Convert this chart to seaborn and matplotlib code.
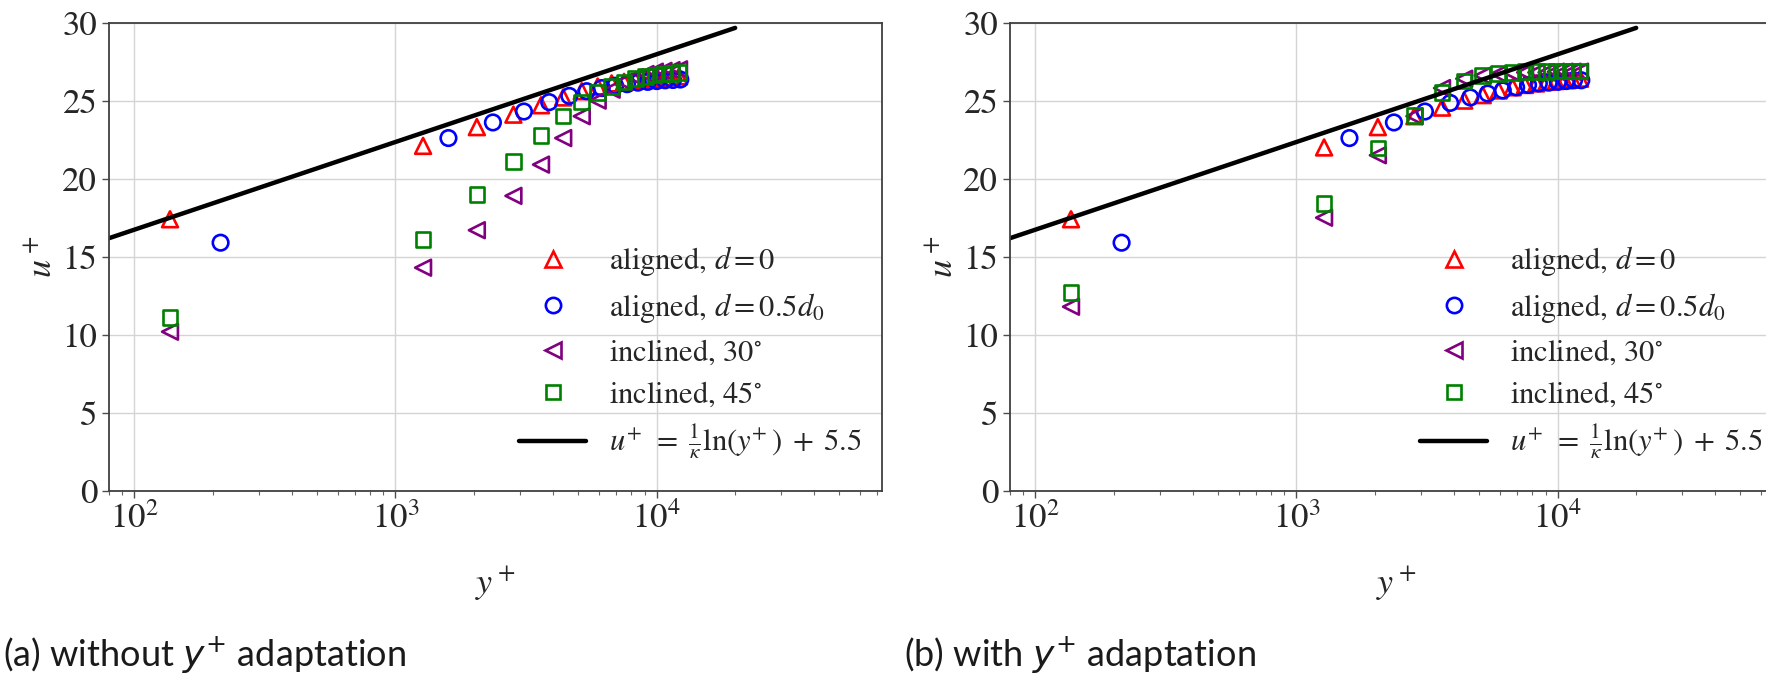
import numpy as np
import matplotlib
matplotlib.use("Agg")
from matplotlib import pyplot as plt
from matplotlib.lines import Line2D
import seaborn as sns

# values
# cell-centre y+ positions (shared by the d=0 and inclined cases)
yplus_main = [137, 1276, 2050, 2830, 3610, 4390, 5170, 5950, 6730, 7510, 8290, 9070, 9850, 10630, 11410, 12190]
# shifted positions of the d = 0.5 d0 case
yplus_shift = [214, 1596, 2362, 3105, 3880, 4634, 5400, 6170, 6940, 7710, 8480, 9250, 10020, 10790, 11560, 12330]

# (a) without y+ adaptation
u_aligned_a = [17.4, 22.1, 23.3, 24.1, 24.7, 25.2, 25.6, 25.9, 26.1, 26.2, 26.3, 26.35, 26.4, 26.45, 26.5, 26.55]
u_shift_a = [15.9, 22.6, 23.6, 24.3, 24.9, 25.3, 25.6, 25.8, 25.95, 26.05, 26.15, 26.2, 26.25, 26.3, 26.32, 26.35]
u_incl30_a = [10.2, 14.3, 16.7, 18.9, 20.9, 22.6, 24.0, 25.0, 25.7, 26.2, 26.5, 26.7, 26.85, 26.9, 26.95, 27.0]
u_incl45_a = [11.1, 16.1, 19.0, 21.1, 22.75, 24.0, 24.9, 25.5, 25.9, 26.2, 26.4, 26.55, 26.65, 26.7, 26.75, 26.8]

# (b) with y+ adaptation
u_aligned_b = [17.4, 22.0, 23.3, 24.0, 24.55, 25.0, 25.35, 25.65, 25.85, 26.0, 26.1, 26.2, 26.25, 26.3, 26.35, 26.4]
u_shift_b = [15.9, 22.6, 23.6, 24.3, 24.85, 25.2, 25.45, 25.65, 25.85, 26.0, 26.1, 26.15, 26.2, 26.25, 26.3, 26.3]
u_incl30_b = [11.8, 17.5, 21.5, 24.0, 25.8, 26.4, 26.6, 26.7, 26.75, 26.8, 26.8, 26.8, 26.85, 26.85, 26.85, 26.85]
u_incl45_b = [12.7, 18.4, 21.95, 24.05, 25.5, 26.25, 26.6, 26.75, 26.8, 26.85, 26.85, 26.85, 26.9, 26.9, 26.9, 26.9]

# log law of the wall
kappa = 0.41
B = 5.5
line_yplus = np.array([60.0, 2.0e4])

labels = ['aligned, $d=0$', 'aligned, $d=0.5d_0$', 'inclined, $30^{\\circ}$',
          'inclined, $45^{\\circ}$',
          '$u^{+}\\,\\;=\\;\\frac{1}{\\kappa}\\ln(y^{+}\\,)\\;+\\;5.5$']
captions = ['(a) without $y^{+}$ adaptation', '(b) with $y^{+}$ adaptation']

sns.set_style('whitegrid', {'axes.edgecolor': '0.25', 'grid.color': '0.83',
                            'xtick.bottom': True, 'ytick.left': True})
plt.rcParams['font.family'] = ['STIXGeneral', 'DejaVu Serif']
plt.rcParams['mathtext.fontset'] = 'stix'
plt.rcParams['axes.linewidth'] = 1.3
plt.rcParams['grid.linewidth'] = 1.0


def draw_panel(ax, u_red, u_blue, u_purple, u_green):
    sns.scatterplot(x=yplus_main, y=u_red, marker='^', s=130, facecolors='none',
                    edgecolor='red', linewidth=1.9, ax=ax)
    sns.scatterplot(x=yplus_shift, y=u_blue, marker='o', s=125, facecolors='none',
                    edgecolor='blue', linewidth=1.9, ax=ax)
    sns.scatterplot(x=yplus_main, y=u_purple, marker='<', s=130, facecolors='none',
                    edgecolor='purple', linewidth=1.9, ax=ax)
    sns.scatterplot(x=yplus_main, y=u_green, marker='s', s=110, facecolors='none',
                    edgecolor='green', linewidth=1.9, ax=ax)
    u_line = np.log(line_yplus) / kappa + B
    sns.lineplot(x=line_yplus, y=u_line, color='black', linewidth=3.2, ax=ax)

    ax.set_xscale('log')
    ax.set_xlim(80, 7.3e4)
    ax.set_ylim(0, 30)
    ax.set_yticks(range(0, 31, 5))
    ax.tick_params(axis='both', which='major', labelsize=25, direction='out',
                   length=5, width=1.0, color='0.3')
    ax.tick_params(axis='x', which='minor', direction='out', length=3, width=0.8,
                   color='0.4', bottom=True)
    ax.grid(True, which='major')
    ax.grid(False, which='minor')
    ax.set_xlabel('$y^+$', fontsize=26, labelpad=20)
    ax.set_ylabel('$u^+$', fontsize=26, labelpad=2)

    handles = [
        Line2D([], [], ls='none', marker='^', ms=11.5, mfc='none', mec='red', mew=1.9),
        Line2D([], [], ls='none', marker='o', ms=11, mfc='none', mec='blue', mew=1.9),
        Line2D([], [], ls='none', marker='<', ms=11.5, mfc='none', mec='purple', mew=1.9),
        Line2D([], [], ls='none', marker='s', ms=10.5, mfc='none', mec='green', mew=1.9),
        Line2D([], [], color='black', lw=3.2),
    ]
    ax.legend(handles=handles, labels=labels, loc='lower right', bbox_to_anchor=(1.0, 0.022),
              frameon=False, fontsize=22, handlelength=2.2, handletextpad=0.75,
              labelspacing=0.42, borderaxespad=0.25)


fig = plt.figure(figsize=(17.66, 6.83), dpi=100)
W, H = 1766.0, 683.0
ax_a = fig.add_axes([109 / W, 1 - 491 / H, 773 / W, 468.5 / H])
ax_b = fig.add_axes([1010 / W, 1 - 491 / H, 773 / W, 468.5 / H])

draw_panel(ax_a, u_aligned_a, u_shift_a, u_incl30_a, u_incl45_a)
draw_panel(ax_b, u_aligned_b, u_shift_b, u_incl30_b, u_incl45_b)

fig.text(3 / W, 1 - 655 / H, captions[0], family='Lato', fontsize=26, va='center',
         color='#1a1a1a', math_fontfamily='dejavusans')
fig.text(904 / W, 1 - 655 / H, captions[1], family='Lato', fontsize=26, va='center',
         color='#1a1a1a', math_fontfamily='dejavusans')

fig.savefig('out.png', dpi=100)
